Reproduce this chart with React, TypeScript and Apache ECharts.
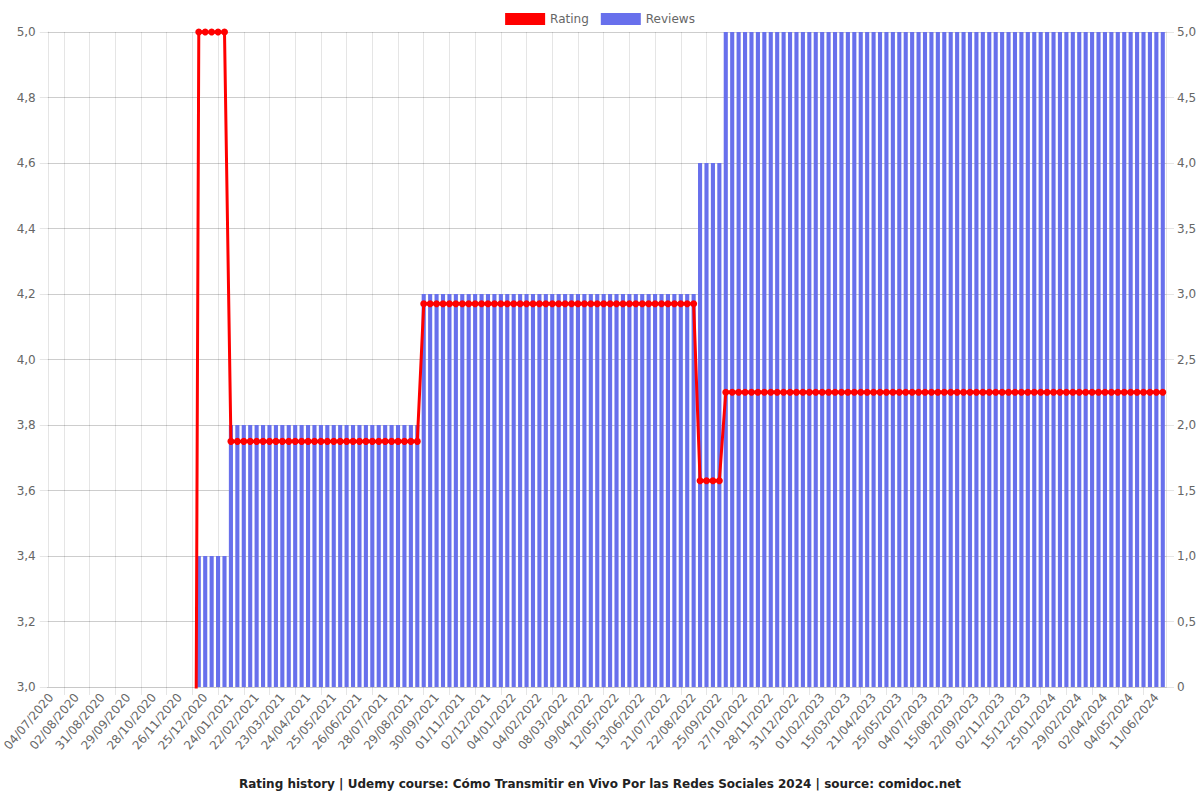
import React, { useEffect, useRef } from 'react';
import * as echarts from 'echarts';

const categories: string[] = [
  '04/07/2020','11/07/2020','18/07/2020','26/07/2020',
  '02/08/2020','09/08/2020','16/08/2020','24/08/2020',
  '31/08/2020','07/09/2020','14/09/2020','22/09/2020',
  '29/09/2020','06/10/2020','13/10/2020','21/10/2020',
  '28/10/2020','04/11/2020','11/11/2020','19/11/2020',
  '26/11/2020','03/12/2020','10/12/2020','18/12/2020',
  '25/12/2020','01/01/2021','08/01/2021','16/01/2021',
  '24/01/2021','31/01/2021','07/02/2021','15/02/2021',
  '22/02/2021','01/03/2021','08/03/2021','16/03/2021',
  '23/03/2021','31/03/2021','08/04/2021','16/04/2021',
  '24/04/2021','02/05/2021','10/05/2021','17/05/2021',
  '25/05/2021','02/06/2021','10/06/2021','18/06/2021',
  '26/06/2021','04/07/2021','12/07/2021','20/07/2021',
  '28/07/2021','05/08/2021','13/08/2021','21/08/2021',
  '29/08/2021','06/09/2021','14/09/2021','22/09/2021',
  '30/09/2021','08/10/2021','16/10/2021','24/10/2021',
  '01/11/2021','09/11/2021','17/11/2021','24/11/2021',
  '02/12/2021','10/12/2021','18/12/2021','27/12/2021',
  '04/01/2022','12/01/2022','20/01/2022','27/01/2022',
  '04/02/2022','12/02/2022','20/02/2022','28/02/2022',
  '08/03/2022','16/03/2022','24/03/2022','01/04/2022',
  '09/04/2022','17/04/2022','25/04/2022','04/05/2022',
  '12/05/2022','20/05/2022','28/05/2022','05/06/2022',
  '13/06/2022','23/06/2022','02/07/2022','11/07/2022',
  '21/07/2022','29/07/2022','06/08/2022','14/08/2022',
  '22/08/2022','30/08/2022','08/09/2022','17/09/2022',
  '25/09/2022','03/10/2022','11/10/2022','19/10/2022',
  '27/10/2022','04/11/2022','12/11/2022','20/11/2022',
  '28/11/2022','06/12/2022','14/12/2022','23/12/2022',
  '31/12/2022','08/01/2023','16/01/2023','24/01/2023',
  '01/02/2023','11/02/2023','22/02/2023','04/03/2023',
  '15/03/2023','24/03/2023','02/04/2023','12/04/2023',
  '21/04/2023','29/04/2023','08/05/2023','17/05/2023',
  '25/05/2023','04/06/2023','14/06/2023','24/06/2023',
  '04/07/2023','14/07/2023','25/07/2023','04/08/2023',
  '15/08/2023','24/08/2023','03/09/2023','13/09/2023',
  '22/09/2023','02/10/2023','12/10/2023','23/10/2023',
  '02/11/2023','12/11/2023','23/11/2023','04/12/2023',
  '15/12/2023','25/12/2023','04/01/2024','15/01/2024',
  '25/01/2024','03/02/2024','12/02/2024','20/02/2024',
  '29/02/2024','08/03/2024','16/03/2024','25/03/2024',
  '02/04/2024','10/04/2024','18/04/2024','26/04/2024',
  '04/05/2024','14/05/2024','23/05/2024','02/06/2024',
  '11/06/2024','20/06/2024',
];

const rating: number[] = [
  0,0,0,0,0,0,0,0,0,0,
  0,0,0,0,0,0,0,0,0,0,
  0,0,0,
  5,5,5,5,5,
  3.75,3.75,3.75,3.75,3.75,3.75,3.75,3.75,3.75,3.75,
  3.75,3.75,3.75,3.75,3.75,3.75,3.75,3.75,3.75,3.75,
  3.75,3.75,3.75,3.75,3.75,3.75,3.75,3.75,3.75,3.75,
  4.17,4.17,4.17,4.17,4.17,4.17,4.17,4.17,4.17,4.17,
  4.17,4.17,4.17,4.17,4.17,4.17,4.17,4.17,4.17,4.17,
  4.17,4.17,4.17,4.17,4.17,4.17,4.17,4.17,4.17,4.17,
  4.17,4.17,4.17,4.17,4.17,4.17,4.17,4.17,4.17,4.17,
  4.17,4.17,4.17,
  3.63,3.63,3.63,3.63,
  3.9,3.9,3.9,3.9,3.9,3.9,3.9,3.9,3.9,3.9,
  3.9,3.9,3.9,3.9,3.9,3.9,3.9,3.9,3.9,3.9,
  3.9,3.9,3.9,3.9,3.9,3.9,3.9,3.9,3.9,3.9,
  3.9,3.9,3.9,3.9,3.9,3.9,3.9,3.9,3.9,3.9,
  3.9,3.9,3.9,3.9,3.9,3.9,3.9,3.9,3.9,3.9,
  3.9,3.9,3.9,3.9,3.9,3.9,3.9,3.9,3.9,3.9,
  3.9,3.9,3.9,3.9,3.9,3.9,3.9,3.9,3.9,
];

const reviews: number[] = [
  0,0,0,0,0,0,0,0,0,0,
  0,0,0,0,0,0,0,0,0,0,
  0,0,0,
  1,1,1,1,1,
  2,2,2,2,2,2,2,2,2,2,
  2,2,2,2,2,2,2,2,2,2,
  2,2,2,2,2,2,2,2,2,2,
  3,3,3,3,3,3,3,3,3,3,
  3,3,3,3,3,3,3,3,3,3,
  3,3,3,3,3,3,3,3,3,3,
  3,3,3,3,3,3,3,3,3,3,
  3,3,3,
  4,4,4,4,
  5,5,5,5,5,5,5,5,5,5,
  5,5,5,5,5,5,5,5,5,5,
  5,5,5,5,5,5,5,5,5,5,
  5,5,5,5,5,5,5,5,5,5,
  5,5,5,5,5,5,5,5,5,5,
  5,5,5,5,5,5,5,5,5,5,
  5,5,5,5,5,5,5,5,5,
];

const titleText =
  'Rating history | Udemy course: Cómo Transmitir en Vivo Por las Redes Sociales 2024 | source: comidoc.net';

const FONT = 'DejaVu Sans';
const GRID = 'rgba(0,0,0,0.1)';
const fmt = (v: number) => (v === 0 ? '0' : v.toFixed(1).replace('.', ','));

export default function App() {
  const ref = useRef<HTMLDivElement>(null);
  useEffect(() => {
    if (!ref.current) return;
    const chart = echarts.init(ref.current, undefined, { renderer: 'svg' });
    const tickEvery = (i: number) => i % 4 === 2;
    chart.setOption({
      animation: false,
      textStyle: { fontFamily: FONT },
      title: {
        text: titleText,
        left: 'center',
        top: 773,
        textStyle: { fontFamily: FONT, fontSize: 12, fontWeight: 'bold', color: '#222' },
      },
      legend: {
        top: 8,
        left: 'center',
        icon: 'rect',
        itemWidth: 40,
        itemHeight: 12,
        itemGap: 12,
        data: ['Rating', 'Reviews'],
        textStyle: { fontFamily: FONT, fontSize: 12, color: '#666' },
      },
      grid: { left: 46, right: 34, top: 32, bottom: 113 },
      xAxis: {
        type: 'category',
        data: categories,
        boundaryGap: true,
        axisLine: { show: true, lineStyle: { color: '#c8c8c8', width: 1 } },
        axisTick: {
          show: true,
          interval: tickEvery,
          alignWithLabel: true,
          length: 8,
          lineStyle: { color: GRID },
        },
        splitLine: {
          show: true,
          interval: tickEvery,
          alignWithLabel: true,
          lineStyle: { color: GRID },
        },
        axisLabel: {
          interval: 3,
          rotate: 50,
          margin: 8,
          fontSize: 12,
          color: '#666',
          fontFamily: FONT,
        },
      },
      yAxis: [
        {
          type: 'value',
          min: 3,
          max: 5,
          interval: 0.2,
          position: 'left',
          axisLine: { show: true, lineStyle: { color: GRID } },
          axisTick: { show: true, length: 8, lineStyle: { color: GRID } },
          splitLine: { show: true, lineStyle: { color: GRID } },
          axisLabel: { formatter: fmt, margin: 12, fontSize: 12, color: '#666', fontFamily: FONT },
        },
        {
          type: 'value',
          min: 0,
          max: 5,
          interval: 0.5,
          position: 'right',
          axisLine: { show: true, lineStyle: { color: GRID } },
          axisTick: { show: true, length: 8, lineStyle: { color: GRID } },
          splitLine: { show: true, lineStyle: { color: GRID } },
          axisLabel: { formatter: fmt, margin: 11, fontSize: 12, color: '#666', fontFamily: FONT },
        },
      ],
      series: [
        {
          name: 'Rating',
          type: 'line',
          yAxisIndex: 0,
          data: rating,
          z: 5,
          clip: true,
          showSymbol: true,
          showAllSymbol: true,
          symbol: 'circle',
          symbolSize: 7,
          color: '#ff0000',
          itemStyle: { color: '#ff0000' },
          lineStyle: { color: '#ff0000', width: 3 },
        },
        {
          name: 'Reviews',
          type: 'bar',
          yAxisIndex: 1,
          data: reviews,
          z: 2,
          barWidth: '64%',
          color: '#6870ec',
          itemStyle: { color: '#6870ec' },
        },
      ],
    });
    return () => chart.dispose();
  }, []);
  return (
    <div
      ref={ref}
      style={{ position: 'fixed', left: 0, top: 0, width: 1200, height: 800, background: '#fff' }}
    />
  );
}
